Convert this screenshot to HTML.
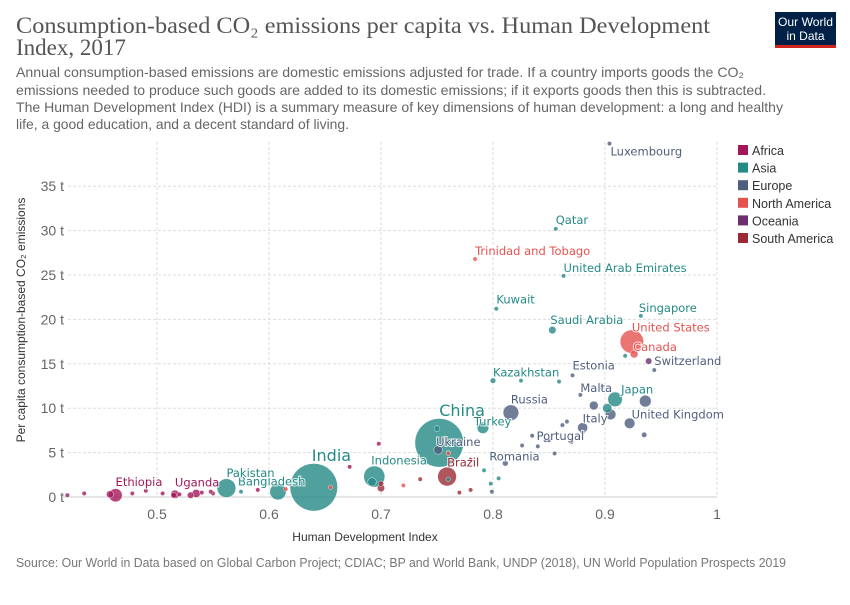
<!DOCTYPE html>
<html><head><meta charset="utf-8">
<style>
body{margin:0;background:#fff;}
svg text{font-family:"Liberation Sans",sans-serif;}
svg text.serif{font-family:"Liberation Serif",serif;}
.lbl{font-family:"DejaVu Sans","Liberation Sans",sans-serif;}
</style></head>
<body>
<svg id="chart" width="850" height="600" viewBox="0 0 850 600" xmlns="http://www.w3.org/2000/svg">
<text class="serif" x="16" y="33" font-size="23" fill="#555" textLength="694" lengthAdjust="spacingAndGlyphs">Consumption-based CO₂ emissions per capita vs. Human Development</text>
<text class="serif" x="16" y="55" font-size="23" fill="#555">Index, 2017</text>
<g font-size="14" fill="#666">
<text x="16" y="77" textLength="728" lengthAdjust="spacingAndGlyphs">Annual consumption-based emissions are domestic emissions adjusted for trade. If a country imports goods the CO₂</text>
<text x="16" y="95" textLength="750" lengthAdjust="spacingAndGlyphs">emissions needed to produce such goods are added to its domestic emissions; if it exports goods then this is subtracted.</text>
<text x="16" y="112" textLength="767" lengthAdjust="spacingAndGlyphs">The Human Development Index (HDI) is a summary measure of key dimensions of human development: a long and healthy</text>
<text x="16" y="129" textLength="333" lengthAdjust="spacingAndGlyphs">life, a good education, and a decent standard of living.</text>
</g>
<g>
<rect x="775" y="12" width="61" height="33" fill="#002147"/>
<rect x="775" y="45" width="61" height="3" fill="#ce261e"/>
<text x="805.5" y="26" font-size="12" fill="#fff" text-anchor="middle" textLength="55" lengthAdjust="spacingAndGlyphs">Our World</text>
<text x="805.5" y="40" font-size="12" fill="#fff" text-anchor="middle">in Data</text>
</g>
<g id="grid"></g>
<g id="axes"></g>
<g id="marks"></g>
<g id="labels"></g>
<g id="legend"></g>
<text x="0" y="0" transform="translate(25,320) rotate(-90)" font-size="12" fill="#333" text-anchor="middle">Per capita consumption-based CO₂ emissions</text>
<text x="365" y="541" font-size="12" fill="#333" text-anchor="middle">Human Development Index</text>
<text x="16" y="567" font-size="12.5" fill="#777" textLength="770" lengthAdjust="spacingAndGlyphs">Source: Our World in Data based on Global Carbon Project; CDIAC; BP and World Bank, UNDP (2018), UN World Population Prospects 2019</text>
</svg>
<script>
const xTicks=[0.5,0.6,0.7,0.8,0.9,1];
const xTickLabels=["0.5","0.6","0.7","0.8","0.9","1"];
const yTicks=[0,5,10,15,20,25,30,35];
const yTickLabels=["0 t","5 t","10 t","15 t","20 t","25 t","30 t","35 t"];
const regions=["Africa","Asia","Europe","North America","Oceania","South America"];
const regionColors=["#a2175a","#248a86","#4f5e7d","#e5534f","#6b2f6e","#9b2a36"];
const countries=["Luxembourg","Qatar","Trinidad and Tobago","United Arab Emirates","Kuwait","Saudi Arabia","Singapore","United States","Canada","Australia","Switzerland","Estonia","Kazakhstan","Malta","Japan","Germany","Russia","Italy","United Kingdom","China","Ukraine","Turkey","Portugal","Romania","Brazil","Indonesia","India","Bangladesh","Pakistan","Ethiopia","Uganda"];
const hdi=[0.904,0.856,0.784,0.863,0.803,0.853,0.932,0.924,0.926,0.939,0.944,0.871,0.800,0.878,0.909,0.936,0.816,0.880,0.922,0.752,0.751,0.791,0.847,0.811,0.759,0.694,0.640,0.608,0.562,0.463,0.516,
0.42,0.435,0.458,0.478,0.505,0.49,0.515,0.52,0.53,0.535,0.54,0.548,0.55,0.575,0.59,0.698,0.70,0.692,0.70,0.73,0.77,0.78,0.735,0.799,0.835,0.862,0.866,0.89,0.905,0.88,0.84,0.85,0.855,0.87,0.826,0.935,0.75,0.76,0.792,0.798,0.805,0.825,0.859,0.902,0.78,0.897,0.72,0.655,0.615,0.76,0.76,0.918,0.672];
const co2=[39.8,30.2,26.8,24.9,21.2,18.8,20.4,17.5,16.1,15.3,14.3,13.7,13.1,11.5,11.0,10.8,9.5,7.8,8.3,6.1,5.3,7.8,6.4,3.8,2.3,2.3,1.1,0.6,1.0,0.2,0.3,
0.2,0.4,0.3,0.4,0.4,0.7,0.2,0.3,0.2,0.4,0.5,0.6,0.4,0.6,0.8,6.0,1.5,1.7,1.0,4.2,0.5,0.8,2.0,0.6,6.9,8.1,8.5,10.3,9.3,7.3,5.7,6.4,4.9,6.2,5.8,7.0,7.7,5.0,3.0,1.5,2.1,13.1,13.0,10.0,4.2,12.3,1.3,1.1,0.9,4.9,2.0,15.9,3.4];
const region=[2,1,3,1,1,1,1,3,3,4,2,2,1,2,1,2,2,2,2,1,2,1,2,2,5,1,1,1,1,0,0,
0,0,0,0,0,0,0,0,0,0,0,0,0,1,0,0,5,1,5,3,5,5,5,2,2,2,2,2,2,2,2,2,2,2,2,2,1,1,1,1,1,1,1,1,5,1,3,3,3,3,1,1,0];
const pop=[0.6,2.6,1.4,9.4,4.1,33,5.7,325,37,24.6,8.5,1.3,18,0.5,127,82,145,60,66,1400,44,80,10,19.6,209,264,1340,159,207,105,42,
1,3,30,6,2,4,18,12,25,40,6,5,8,2,2,5,17,43,32,6,3,1,1,3,4,10,7,46,67,9,5,2,1,2,4,17,20,6,3,1,1,0.5,3,51,3,3,2,1,3,2,5,6,3];
const labels={0:"Luxembourg",1:"Qatar",2:"Trinidad and Tobago",3:"United Arab Emirates",4:"Kuwait",5:"Saudi Arabia",6:"Singapore",7:"United States",8:"Canada",10:"Switzerland",11:"Estonia",12:"Kazakhstan",13:"Malta",14:"Japan",16:"Russia",17:"Italy",18:"United Kingdom",19:"China",20:"Ukraine",21:"Turkey",22:"Portugal",23:"Romania",24:"Brazil",25:"Indonesia",26:"India",27:"Bangladesh",28:"Pakistan",29:"Ethiopia",30:"Uganda"};
const labelOffsets={0:[1,12,11.5],1:[0,-5,11.5],2:[0,-4,11.5],3:[0,-4,11.5],4:[0,-5,11.5],5:[-2,-6,11.5],6:[-2,-4,11.5],7:[0,-10,11.5],8:[-1,-3,11.5],10:[0,-5,11.5],11:[0,-6,11.5],12:[0,-4,11.5],13:[0,-3,11.5],14:[6,-6,11.5],16:[0,-9,11.5],17:[0,-5,11.5],18:[2,-5,11.5],19:[0,-27,16],20:[-2,-4,11.5],21:[-9,-2,11.5],22:[-9,0,11.5],23:[-16,-3,11.5],24:[0,-10,11.5],25:[-3,-12,11.5],26:[-2,-26,16],27:[-40,-6,11.5],28:[0,-11,11.5],29:[0,-9,11.5],30:[0,-8,11.5]};
const NS="http://www.w3.org/2000/svg";
const X0=157,XS=1120,Y0=497,YS=8.88;
function xs(v){return X0+(v-0.5)*XS;}
function ys(v){return Y0-v*YS;}
function rs(p){return Math.max(2.2,Math.sqrt(p||1)*0.65);}
function mk(t,a,parent){const e=document.createElementNS(NS,t);for(const k in a)e.setAttribute(k,a[k]);parent.appendChild(e);return e;}
function slug(s){return String(s).toLowerCase().replace(/ /g,'-');}
const grid=document.getElementById('grid'),axes=document.getElementById('axes');
yTicks.forEach((t,i)=>{
 if(t>0){const l=mk('line',{x1:68,x2:717,y1:ys(t),y2:ys(t),stroke:'#ddd','stroke-dasharray':'3,2'},grid);
 
 }
 const tx=mk('text',{x:64,y:ys(t)+5,'text-anchor':'end','font-size':14,fill:'#666'},axes);
 tx.textContent=yTickLabels[i];
 
 
});
xTicks.forEach((t,i)=>{
 const l=mk('line',{x1:xs(t),x2:xs(t),y1:142,y2:497,stroke:'#ddd','stroke-dasharray':'3,2'},grid);
 
 
 const tx=mk('text',{x:xs(t),y:519,'text-anchor':'middle','font-size':14,fill:'#666'},axes);
 tx.textContent=xTickLabels[i];
 
 
});
const ax=mk('line',{x1:62,x2:717,y1:497,y2:497,stroke:'#ccc','stroke-width':1},axes);


const marks=document.getElementById('marks');
const n=Math.min(hdi.length,co2.length);
const order=[];for(let i=0;i<n;i++)order.push(i);
order.sort((a,b)=>(pop[b]||1)-(pop[a]||1));
order.forEach(i=>{
 const c=mk('circle',{cx:xs(hdi[i]),cy:ys(co2[i]),r:rs(pop[i]),fill:regionColors[region[i]||0],'fill-opacity':0.8,stroke:'#fff','stroke-width':0.4},marks);
 
 
});
const lg=document.getElementById('labels');
for(const k in labels){
 const i=+k,o=labelOffsets[k];
 const t=mk('text',{x:xs(hdi[i])+o[0],y:ys(co2[i])+o[1],fill:regionColors[region[i]],class:'lbl',stroke:'#fff','stroke-width':2,'stroke-opacity':0.8,'paint-order':'stroke',style:'font-size:'+o[2]+'px'},lg);
 t.textContent=labels[k];
 
 
}
const leg=document.getElementById('legend');
regions.forEach((r,i)=>{
 const g=mk('g',{},leg);
 
 
 mk('rect',{x:738,y:145+i*17.6,width:10,height:10,fill:regionColors[i]},g);
 const t=mk('text',{x:752,y:155+i*17.6,'font-size':12.5,fill:'#333'},g);
 t.textContent=r;
});
</script>
</body></html>
